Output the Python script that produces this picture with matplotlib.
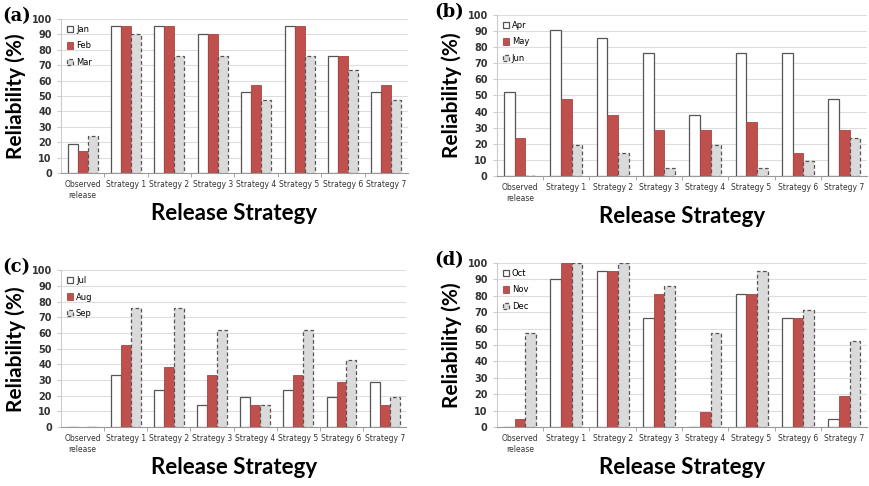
import numpy as np
import matplotlib.pyplot as plt

# categorias do eixo x
categories = ["Observed\nrelease", "Strategy 1", "Strategy 2", "Strategy 3",
              "Strategy 4", "Strategy 5", "Strategy 6", "Strategy 7"]

# (a)
jan = [19.0, 95.2, 95.2, 90.5, 52.4, 95.2, 76.2, 52.4]
feb = [14.3, 95.2, 95.2, 90.5, 57.1, 95.2, 76.2, 57.1]
mar = [23.8, 90.5, 76.2, 76.2, 47.6, 76.2, 66.7, 47.6]
# (b)
apr = [52.4, 90.5, 85.7, 76.2, 38.1, 76.2, 76.2, 47.6]
may = [23.8, 47.6, 38.1, 28.6, 28.6, 33.3, 14.3, 28.6]
jun = [0, 19.0, 14.3, 4.8, 19.0, 4.8, 9.5, 23.8]
# (c)
jul = [0, 33.3, 23.8, 14.3, 19.0, 23.8, 19.0, 28.6]
aug = [0, 52.4, 38.1, 33.3, 14.3, 33.3, 28.6, 14.3]
sep = [0, 76.2, 76.2, 61.9, 14.3, 61.9, 42.9, 19.0]
# (d)
octo = [0, 90.5, 95.2, 66.7, 0, 81.0, 66.7, 4.8]
nov = [4.8, 100, 95.2, 81.0, 9.5, 81.0, 66.7, 19.0]
dec = [57.1, 100, 100, 85.7, 57.1, 95.2, 71.4, 52.4]

panels = [
    ("(a)", [jan, feb, mar], ["Jan", "Feb", "Mar"], [0.070, 0.644, 0.399, 0.317]),
    ("(b)", [apr, may, jun], ["Apr", "May", "Jun"], [0.571, 0.638, 0.426, 0.331]),
    ("(c)", [jul, aug, sep], ["Jul", "Aug", "Sep"], [0.070, 0.121, 0.397, 0.323]),
    ("(d)", [octo, nov, dec], ["Oct", "Nov", "Dec"], [0.571, 0.121, 0.426, 0.338]),
]

# estilos das tres series (branco, vermelho, cinza tracejado)
styles = [
    dict(facecolor="white", edgecolor="#555555", linewidth=0.9, linestyle="-"),
    dict(facecolor="#C0504D", edgecolor="#A94442", linewidth=0.6, linestyle="-"),
    dict(facecolor="#DADADA", edgecolor="#555555", linewidth=0.9, linestyle=(0, (3, 2))),
]

fig = plt.figure(figsize=(8.7, 4.86), dpi=100)
x = np.arange(len(categories))
w = 0.23

for label, series, names, rect in panels:
    ax = fig.add_axes(rect)
    for i, (vals, name, st) in enumerate(zip(series, names, styles)):
        ax.bar(x + (i - 1) * w, vals, w, label=name, zorder=3, **st)
    ax.set_xlim(-0.5, 7.5)
    ax.set_ylim(0, 100)
    ax.set_yticks(range(0, 101, 10))
    ax.yaxis.grid(True, color="#dddddd", linewidth=0.8, zorder=0)
    ax.set_axisbelow(True)
    for s in ["top", "right"]:
        ax.spines[s].set_visible(False)
    ax.spines["left"].set_color("#cccccc")
    ax.spines["bottom"].set_color("#999999")
    ax.set_xticks(x)
    ax.set_xticklabels(categories, fontsize=5.5, color="#333333", linespacing=1.3)
    ax.set_xticks(np.arange(0.5, 7.5, 1), minor=True)
    ax.tick_params(axis="x", which="major", length=0, pad=5)
    ax.tick_params(axis="x", which="minor", length=3, color="#999999")
    ax.tick_params(axis="y", length=3, color="#cccccc", labelsize=7, labelcolor="#333333")
    for t in ax.get_yticklabels():
        t.set_fontweight("bold")
    ax.set_xlabel("Release Strategy", fontsize=16, fontweight="bold",
                  family=["Lato", "DejaVu Sans"], labelpad=2)
    ax.set_ylabel("Reliability (%)", fontsize=15, fontweight="bold",
                  family=["Lato", "DejaVu Sans"], labelpad=4)
    ax.legend(loc="upper left", frameon=False, fontsize=6, handlelength=0.8,
              handleheight=0.8, labelspacing=0.9, handletextpad=0.3,
              borderaxespad=0.3)
    pos = ax.get_position()
    fig.text(max(pos.x0 - 0.072, 0.003), pos.y1 + 0.006, label, fontsize=13,
             fontweight="bold", family="DejaVu Serif", va="center", ha="left")

fig.savefig("out.png", dpi=100)
